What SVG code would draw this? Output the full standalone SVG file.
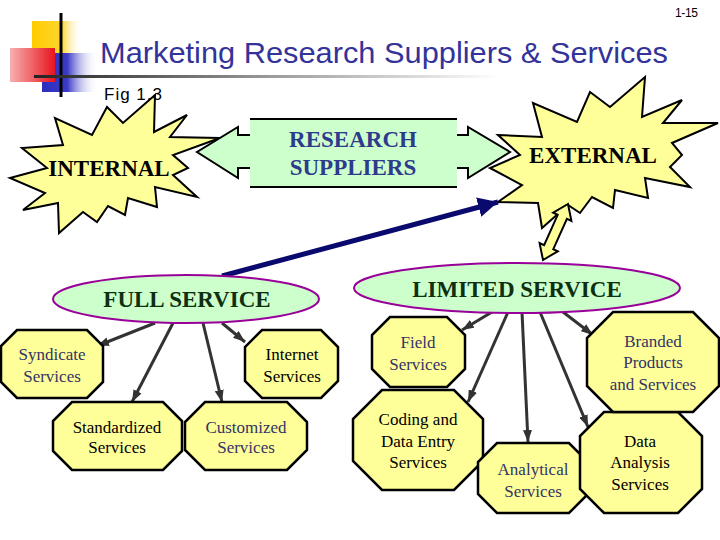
<svg xmlns="http://www.w3.org/2000/svg" width="720" height="540" viewBox="0 0 720 540">
<defs>
<linearGradient id="gY" x1="0" y1="0" x2="1" y2="0"><stop offset="0" stop-color="#FFCC00"/><stop offset="0.6" stop-color="#FFD530"/><stop offset="1" stop-color="#FFFFFF" stop-opacity="0"/></linearGradient>
<linearGradient id="gB" x1="0" y1="0" x2="1" y2="0"><stop offset="0" stop-color="#2E2EBE"/><stop offset="0.45" stop-color="#3A3AC6"/><stop offset="1" stop-color="#FFFFFF" stop-opacity="0"/></linearGradient>
<linearGradient id="gR" x1="0" y1="0" x2="1" y2="0"><stop offset="0" stop-color="#F7B0B0"/><stop offset="1" stop-color="#E8141E"/></linearGradient>
<linearGradient id="gL" x1="0" y1="0" x2="1" y2="0"><stop offset="0" stop-color="#222222"/><stop offset="0.5" stop-color="#999999"/><stop offset="1" stop-color="#FFFFFF"/></linearGradient>
<marker id="ag" viewBox="0 0 4 3" refX="4" refY="1.5" markerWidth="4" markerHeight="3" markerUnits="strokeWidth" orient="auto"><path d="M0,0 L4,1.5 L0,3 z" fill="#333333"/></marker>
<marker id="ab" viewBox="0 0 4 4" refX="4" refY="2" markerWidth="4" markerHeight="4" markerUnits="strokeWidth" orient="auto"><path d="M0,0 L4,2 L0,4 z" fill="#0A0A6E"/></marker>
<style>
.burst{fill:#FFFF99;stroke:#000;stroke-width:2;stroke-linejoin:miter}
.oct{fill:#FFFF99;stroke:#000;stroke-width:2.5}
.ell{fill:#CCFFCC;stroke:#990099;stroke-width:2}
.big{font-family:"Liberation Serif","Times New Roman",serif;font-weight:bold;font-size:23px;text-anchor:middle}
.t{font-family:"Liberation Serif","Times New Roman",serif;font-size:17px;text-anchor:middle}
.blue{fill:#333366}
.blk{fill:#000}
.con{stroke:#333333;stroke-width:3;fill:none;marker-end:url(#ag)}
</style>
</defs>
<rect width="720" height="540" fill="#FFFFFF"/>
<g id="logo">
<rect x="32" y="21" width="50" height="34" fill="url(#gY)"/>
<rect x="42" y="53" width="56" height="39" fill="url(#gB)"/>
<rect x="10" y="48" width="45" height="34" fill="url(#gR)"/>
<line x1="61" y1="13" x2="61" y2="97" stroke="#000" stroke-width="3"/>
<rect x="34" y="75" width="466" height="3" fill="url(#gL)"/>
</g>
<text x="675" y="17" font-family="'Liberation Sans',Arial,sans-serif" font-size="12" textLength="23" fill="#000">1-15</text>
<text x="100" y="63" font-family="'Liberation Sans',Arial,sans-serif" font-size="29" textLength="568" lengthAdjust="spacingAndGlyphs" fill="#333399">Marketing Research Suppliers &amp; Services</text>
<g id="internal">
<polygon class="burst" points="155,95 154,132 187,115 170,137 220,138 173,155 188,168 173,175 197,197 155,187 157,207 128,198 125,215 108,206 97,222 83,212 59,233 58,203 23,210 45,193 10,178 47,168 22,148 63,145 55,118 92,135 107,107 123,123"/>
<text class="big blk" x="109" y="176">INTERNAL</text>
</g>
<text x="104" y="100" font-family="'Liberation Sans',Arial,sans-serif" font-size="17" textLength="58" fill="#000">Fig 1.3</text>
<g id="external">
<polygon class="burst" points="498,135 542,137 533,103 577,122 590,92 610,107 645,77 642,117 682,100 663,123 718,123 672,143 682,155 670,167 690,187 645,178 648,198 615,190 613,208 592,197 580,213 568,205 542,228 538,203 498,202 522,185 490,168 520,155"/>
<text class="big blk" x="593" y="163">EXTERNAL</text>
</g>
<g id="research-suppliers">
<polygon points="197,152 238,127 238,135 250,135 250,119 457,119 457,135 468,135 468,127 510,152 468,178 468,168 457,168 457,187 250,187 250,168 238,168 238,178" fill="#CCFFCC"/>
<path d="M250,119 H457 M457,135 H468 V127 L510,152 L468,178 V168 H457 M457,187 H250 M250,168 H238 V178 L197,152 L238,127 V135 H250" fill="none" stroke="#000" stroke-width="2"/>
<text class="big" x="353" y="147" fill="#2E3A8C">RESEARCH</text>
<text class="big" x="353" y="175" fill="#2E3A8C">SUPPLIERS</text>
</g>
<g id="ext-limited-arrow">
<polygon points="568,204 571.4,220.9 566.9,218.8 553.3,249.2 557.8,251.3 543,260 539.6,243.1 544.1,245.2 557.7,214.8 553.2,212.7" fill="#FFFF99" stroke="#000" stroke-width="2"/>
</g>
<g id="connectors">
<line x1="222" y1="276" x2="498" y2="202" stroke="#0A0A6E" stroke-width="5" marker-end="url(#ab)"/>
<line class="con" x1="155" y1="323" x2="97" y2="346"/>
<line class="con" x1="173" y1="323" x2="132" y2="402"/>
<line class="con" x1="203" y1="323" x2="222" y2="402"/>
<line class="con" x1="222" y1="323" x2="245" y2="342"/>
<line class="con" x1="492" y1="312" x2="462" y2="330"/>
<line class="con" x1="508" y1="312" x2="468" y2="402"/>
<line class="con" x1="522" y1="312" x2="528" y2="442"/>
<line class="con" x1="540" y1="312" x2="588" y2="427"/>
<line class="con" x1="563" y1="312" x2="593" y2="335"/>
</g>
<g id="full-service">
<ellipse class="ell" cx="186" cy="299" rx="133" ry="24"/>
<text class="big" x="187" y="307" fill="#0F2F0F">FULL SERVICE</text>
</g>
<g id="limited-service">
<ellipse class="ell" cx="517" cy="288" rx="163" ry="25"/>
<text class="big" x="517" y="297" fill="#0F2F0F">LIMITED SERVICE</text>
</g>
<g id="syndicate">
<polygon class="oct" points="17,330 87,330 103,346 103,382 87,398 17,398 1,382 1,346"/>
<text class="t blue" x="52" y="360">Syndicate</text>
<text class="t blue" x="52" y="382">Services</text>
</g>
<g id="internet">
<polygon class="oct" points="262,330 321,330 338,347 338,381 321,398 262,398 245,381 245,347"/>
<text class="t blk" x="292" y="360">Internet</text>
<text class="t blk" x="292" y="382">Services</text>
</g>
<g id="standardized">
<polygon class="oct" points="72,402 163,402 182,421 182,451 163,470 72,470 53,451 53,421"/>
<text class="t blk" x="117" y="433">Standardized</text>
<text class="t blk" x="117" y="453">Services</text>
</g>
<g id="customized">
<polygon class="oct" points="205,402 287,402 307,422 307,450 287,470 205,470 185,450 185,422"/>
<text class="t blue" x="246" y="433">Customized</text>
<text class="t blue" x="246" y="453">Services</text>
</g>
<g id="field">
<polygon class="oct" points="390,317 447,317 465,335 465,369 447,387 390,387 372,369 372,335"/>
<text class="t blue" x="418" y="348">Field</text>
<text class="t blue" x="418" y="370">Services</text>
</g>
<g id="coding">
<polygon class="oct" points="382,390 454,390 483,419 483,461 454,490 382,490 353,461 353,419"/>
<text class="t blk" x="418" y="425">Coding and</text>
<text class="t blk" x="418" y="447">Data Entry</text>
<text class="t blk" x="418" y="468">Services</text>
</g>
<g id="analytical">
<polygon class="oct" points="497,443 569,443 588,462 588,494 569,513 497,513 478,494 478,462"/>
<text class="t blue" x="533" y="475">Analytical</text>
<text class="t blue" x="533" y="497">Services</text>
</g>
<g id="data-analysis">
<polygon class="oct" points="604,412 678,412 702,436 702,489 678,513 604,513 580,489 580,436"/>
<text class="t blk" x="640" y="447">Data</text>
<text class="t blk" x="640" y="468">Analysis</text>
<text class="t blk" x="640" y="490">Services</text>
</g>
<g id="branded">
<polygon class="oct" points="613,312 693,312 719,338 719,386 693,412 613,412 587,386 587,338"/>
<text class="t blue" x="653" y="347">Branded</text>
<text class="t blue" x="653" y="368">Products</text>
<text class="t blue" x="653" y="390">and Services</text>
</g>
</svg>
